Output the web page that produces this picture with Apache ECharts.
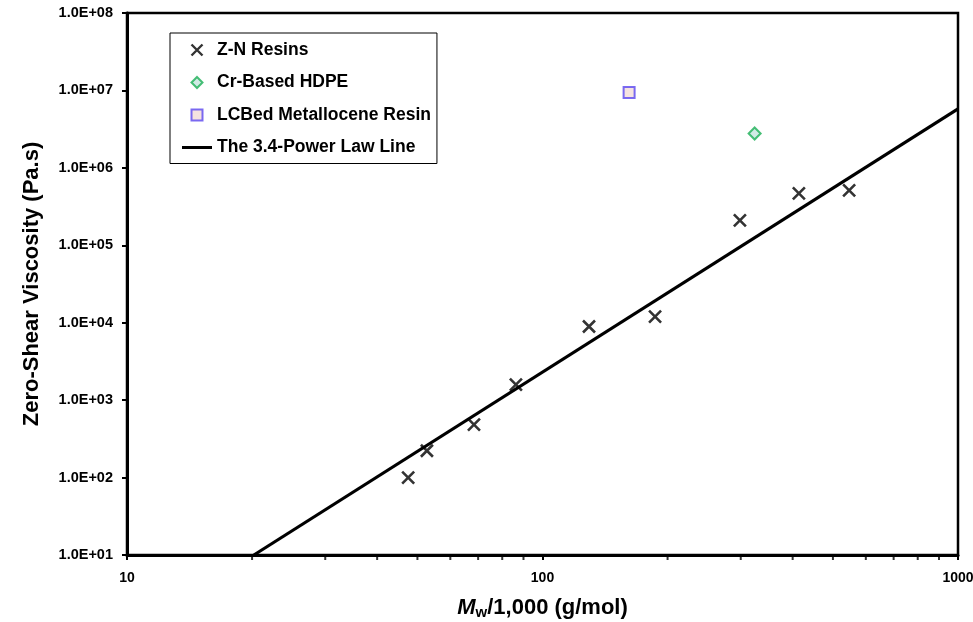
<!DOCTYPE html>
<html>
<head>
<meta charset="utf-8">
<script src="https://cdn.jsdelivr.net/npm/echarts@6/dist/echarts.min.js"></script>
<style>html,body{margin:0;padding:0;background:#fff}#c{width:973px;height:622px}</style>
</head>
<body>
<div id="c"></div>
<script>
// Data
var znMw = [47.5, 52.7, 68.4, 86.3, 129.4, 186.6, 298.6, 414, 547];
var znEta = [100, 222, 482, 1585, 8930, 12000, 210000, 469000, 513000];
var crMw = [324];
var crEta = [2780000];
var lcbMw = [161.6];
var lcbEta = [9420000];
var lawMw = [20.2, 1000];
var lawEta = [10, 5780000];
var xMinorTicks = [20, 30, 40, 50, 60, 70, 80, 90, 200, 300, 400, 500, 600, 700, 800, 900];
var yMin = 10;
var legendNames = ['Z-N Resins', 'Cr-Based HDPE', 'LCBed Metallocene Resin', 'The 3.4-Power Law Line'];

function pairs(xs, ys) { return xs.map(function (x, i) { return [x, ys[i]]; }); }

function sci(v) {
  var e = Math.round(Math.log10(v));
  var s = e < 0 ? '-' : '+';
  var a = Math.abs(e);
  return '1.0E' + s + (a < 10 ? '0' + a : a);
}

var font = '"Liberation Sans", Arial, sans-serif';
var xPath = 'path://M0,0L10,10M10,0L0,10';
var chart = echarts.init(document.getElementById('c'), null, { renderer: 'canvas' });
chart.setOption({
  animation: false,
  backgroundColor: '#fff',
  grid: { left: 127, right: 15, top: 13, bottom: 67, show: true, borderColor: '#000', borderWidth: 2.5,
          backgroundColor: 'transparent', containLabel: false, outerBoundsMode: 'none' },
  legend: {
    orient: 'vertical',
    left: 170, top: 33,
    padding: [8, 6, 7, 12],
    itemGap: 14.5,
    itemWidth: 30, itemHeight: 11,
    borderColor: '#000', borderWidth: 1,
    backgroundColor: '#fff',
    symbolKeepAspect: true,
    textStyle: { fontFamily: font, fontWeight: 'bold', fontSize: 17.5, color: '#000' },
    data: [
      { name: legendNames[0], icon: xPath, itemStyle: { color: '#000', borderColor: '#000', borderWidth: 2.4 } },
      { name: legendNames[1], icon: 'path://M5,0L10,5L5,10L0,5Z', itemStyle: { color: '#c5e6df', borderColor: '#1aaf55', borderWidth: 2 } },
      { name: legendNames[2], icon: 'path://M0,0L10,0L10,10L0,10Z', itemStyle: { color: '#f2dcd8', borderColor: '#5a46f0', borderWidth: 2 } },
      { name: legendNames[3], icon: 'path://M0,0L30,0L30,3L0,3Z', itemStyle: { color: '#000', borderWidth: 0 } }
    ]
  },
  xAxis: {
    type: 'log', logBase: 10, min: 10, max: 1000,
    name: '{i|M}{s|w}/1,000 (g/mol)',
    nameLocation: 'middle', nameGap: 40,
    nameTextStyle: {
      fontFamily: font, fontWeight: 'bold', fontSize: 22, color: '#000',
      rich: {
        i: { fontFamily: font, fontWeight: 'bold', fontStyle: 'italic', fontSize: 22, color: '#000' },
        s: { fontFamily: font, fontWeight: 'bold', fontSize: 15, color: '#000', verticalAlign: 'bottom', padding: [10, 0, 0, 0] }
      }
    },
    axisLine: { lineStyle: { color: '#000', width: 3 } },
    axisTick: { show: true, length: 5, lineStyle: { color: '#000', width: 2 } },
    axisLabel: { fontFamily: font, fontWeight: 'bold', fontSize: 14, color: '#000', margin: 16,
                 formatter: function (v) { return String(Math.round(v)); } },
    splitLine: { show: false },
    minorTick: { show: false }
  },
  yAxis: {
    type: 'log', logBase: 10, min: 10, max: 100000000,
    name: 'Zero-Shear Viscosity (Pa.s)',
    nameLocation: 'middle', nameGap: 84,
    nameTextStyle: { fontFamily: font, fontWeight: 'bold', fontSize: 22, color: '#000' },
    axisLine: { lineStyle: { color: '#000', width: 3 } },
    axisTick: { show: true, length: 5, lineStyle: { color: '#000', width: 2 } },
    axisLabel: { fontFamily: font, fontWeight: 'bold', fontSize: 14.5, color: '#000', margin: 14, formatter: sci },
    splitLine: { show: false }
  },
  series: [
    {
      name: legendNames[0], type: 'scatter',
      data: pairs(znMw, znEta),
      symbol: xPath, symbolSize: 12,
      itemStyle: { color: '#000', borderColor: '#000', borderWidth: 2.6 },
      z: 5
    },
    {
      name: legendNames[1], type: 'scatter',
      data: pairs(crMw, crEta),
      symbol: 'diamond', symbolSize: 12,
      itemStyle: { color: '#c5e6df', borderColor: '#1aaf55', borderWidth: 2 },
      z: 5
    },
    {
      name: legendNames[2], type: 'scatter',
      data: pairs(lcbMw, lcbEta),
      symbol: 'rect', symbolSize: 11,
      itemStyle: { color: '#f2dcd8', borderColor: '#5a46f0', borderWidth: 2 },
      z: 5
    },
    {
      name: legendNames[3], type: 'line',
      data: pairs(lawMw, lawEta),
      symbol: 'none', showSymbol: false,
      lineStyle: { color: '#000', width: 3.2 },
      itemStyle: { color: '#000' },
      z: 4
    },
    {
      name: 'minor', type: 'scatter',
      data: xMinorTicks.map(function (v) { return [v, yMin]; }),
      symbol: 'rect', symbolSize: [2, 4], symbolOffset: [0, 3],
      itemStyle: { color: '#000' },
      clip: false, silent: true, z: 6
    }
  ]
});
</script>
</body>
</html>
